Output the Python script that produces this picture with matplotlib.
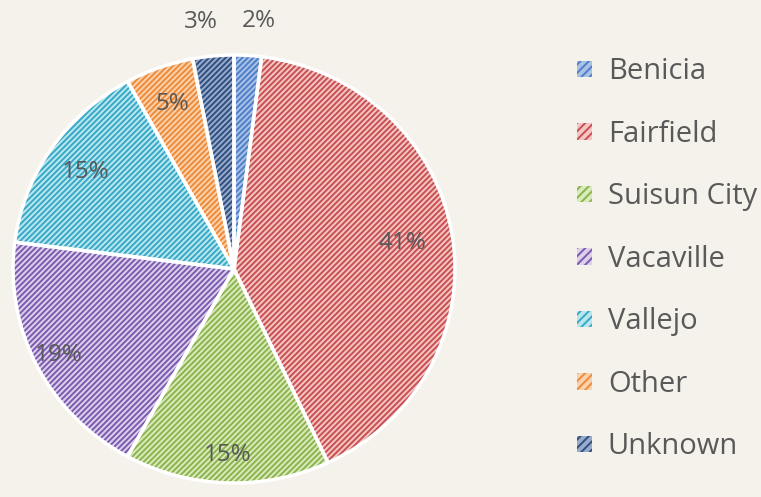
import numpy as np
import matplotlib.pyplot as plt
from matplotlib.patches import Patch

cities = ['Benicia', 'Fairfield', 'Suisun City', 'Vacaville', 'Vallejo', 'Other', 'Unknown']
shares = [2, 41, 15, 19, 15, 5, 3]
line_colors = ['#4F7FC8', '#C94F50', '#8DB24E', '#7B5BAE', '#35A9C6', '#EE8A38', '#2F4F80']
fill_colors = ['#A9C2E6', '#F3C6C5', '#D8EBBB', '#DCD0EC', '#BCE6EF', '#FAD2AE', '#98ABCB']
# label distance from centre (fraction of radius), like Excel's "best fit"
label_dist = [1.16, 0.77, 0.87, 0.89, 0.81, 0.82, 1.16]

bg = '#F5F2EB'
plt.rcParams['font.family'] = ['Open Sans', 'DejaVu Sans']
plt.rcParams['hatch.linewidth'] = 1.4

fig = plt.figure(figsize=(7.61, 4.97), dpi=100, facecolor=bg)
ax = fig.add_axes([13 / 761, 14 / 497, 442 / 761, 428 / 497])
ax.set_facecolor(bg)

# fill + hatch layer
wedges, _ = ax.pie(shares, startangle=90, counterclock=False, colors=fill_colors,
                   wedgeprops=dict(linewidth=0))
for w, c in zip(wedges, line_colors):
    w.set_hatch('//////')
    w.set_edgecolor(c)
    w.set_linewidth(0)

# white borders
ax.pie(shares, startangle=90, counterclock=False,
       wedgeprops=dict(fill=False, edgecolor='white', linewidth=2.5))

# percentage labels
for w, s, d in zip(wedges, shares, label_dist):
    mid = np.deg2rad((w.theta1 + w.theta2) / 2)
    x, y = d * np.cos(mid), d * np.sin(mid)
    if d > 1:
        x += 0.04 * np.sign(x)  # spread the two small outside labels a bit
    ax.text(x, y, f'{s}%', ha='center', va='center', fontsize=17.5, color='#595959')

ax.set_xlim(-1, 1)
ax.set_ylim(-1, 1)
ax.set_aspect('auto')
ax.axis('off')

handles = [Patch(facecolor=f, edgecolor=l, hatch='////', linewidth=0) for f, l in zip(fill_colors, line_colors)]
fig.legend(handles, cities, loc='upper left', bbox_to_anchor=(551 / 761, 1 - 31 / 497),
           frameon=False, fontsize=21, labelcolor='#595959',
           handlelength=0.5, handleheight=0.5, handletextpad=0.55, labelspacing=1.15)

fig.savefig('out.png', dpi=100, facecolor=bg)
